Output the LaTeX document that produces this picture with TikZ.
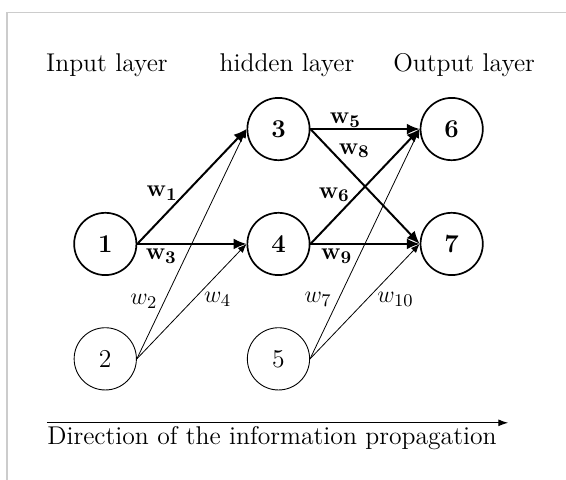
\documentclass[tikz,border=0pt]{standalone}
\usepackage{amsmath}
\usepackage{amssymb}
\usepackage{tikz}
\usetikzlibrary{arrows.meta}

\begin{document}
\begin{tikzpicture}[font=\fontsize{12.9}{15.5}\selectfont,
    neuron/.style={draw, circle, minimum size=1.1cm, inner sep=0pt, line width=0.85pt},
    thinneuron/.style={draw, circle, minimum size=1.1cm, inner sep=0pt, line width=0.45pt},
    strong/.style={-{Latex[length=6.5pt, width=5.5pt]}, line width=1pt},
    weak/.style={-{Latex[length=4.5pt, width=3.5pt]}, line width=0.4pt}]
    \useasboundingbox (0, 0) rectangle (10, 8.48);
    \draw[gray!40, line width=0.8pt] (0.12, 0) -- (0.12, 8.26) -- (10, 8.26);

    \node (inlayer) [anchor=base] at (1.89, 7.21) {Input layer};
    \node (hidlayer) [anchor=base] at (5.07, 7.21) {hidden layer};
    \node (outlayer) [anchor=base] at (8.2, 7.21) {Output layer};

    \node (n1) [neuron] at (1.86, 4.17) {\textbf{1}};
    \node (n2) [thinneuron] at (1.86, 2.14) {2};
    \node (n3) [neuron] at (4.92, 6.2) {\textbf{3}};
    \node (n4) [neuron] at (4.92, 4.17) {\textbf{4}};
    \node (n5) [thinneuron] at (4.92, 2.14) {5};
    \node (n6) [neuron] at (7.98, 6.2) {\textbf{6}};
    \node (n7) [neuron] at (7.98, 4.17) {\textbf{7}};

    \draw[strong] (n1.east) -- (n3.west) node[pos=0.44, left] {$\mathbf{w_1}$};
    \draw[strong] (n1.east) -- (n4.west) node[pos=0.22, below, inner sep=2pt] {$\mathbf{w_3}$};
    \draw[weak] (n2.east) -- (n3.west) node[pos=0.25, left] {$w_2$};
    \draw[weak] (n2.east) -- (n4.west) node[pos=0.55, right, yshift=-2pt] {$w_4$};

    \draw[strong] (n3.east) -- (n6.west) node[pos=0.32, above, inner sep=0.5pt] {$\mathbf{w_5}$};
    \draw[strong] (n3.east) -- (n7.west) node[pos=0.19, right] {$\mathbf{w_8}$};
    \draw[strong] (n4.east) -- (n6.west) node[pos=0.43, left] {$\mathbf{w_6}$};
    \draw[strong] (n4.east) -- (n7.west) node[pos=0.24, below, inner sep=2pt] {$\mathbf{w_9}$};
    \draw[weak] (n5.east) -- (n6.west) node[pos=0.26, left] {$w_7$};
    \draw[weak] (n5.east) -- (n7.west) node[pos=0.55, right, yshift=-2pt] {$w_{10}$};

    \coordinate (dirstart) at (0.83, 1.01);
    \coordinate (dirend) at (8.98, 1.01);
    \draw[-{Latex[length=5pt, width=3.5pt]}, line width=0.6pt] (dirstart) -- (dirend);
    \node (dirtext) [anchor=base west, inner sep=0pt] at (0.83, 0.62) {Direction of the information propagation};
\end{tikzpicture}
\end{document}
